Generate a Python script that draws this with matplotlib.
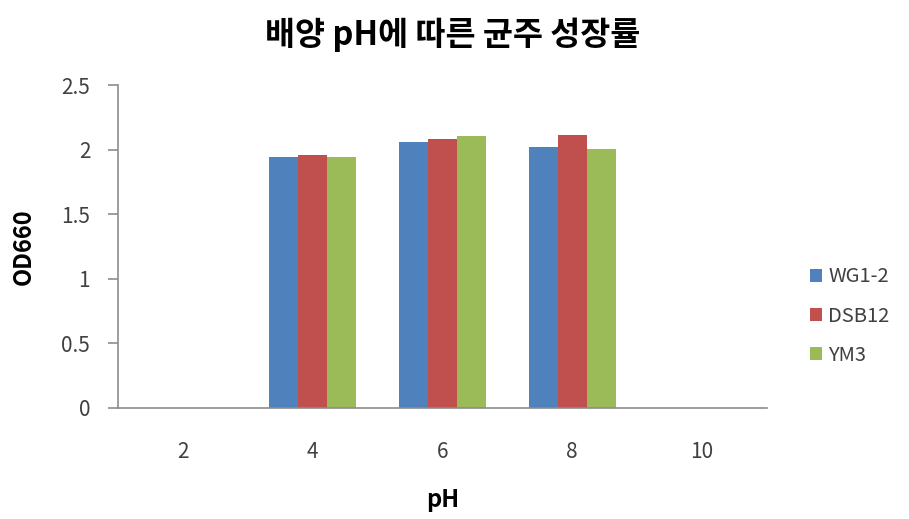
import matplotlib
matplotlib.use("Agg")
import matplotlib.pyplot as plt
import numpy as np

plt.rcParams['font.family'] = ['Noto Sans CJK KR', 'DejaVu Sans']

ph_labels = ["2", "4", "6", "8", "10"]
wg1_2 = [0, 1.945, 2.056, 2.018, 0]
dsb12 = [0, 1.960, 2.080, 2.110, 0]
ym3 = [0, 1.945, 2.108, 2.007, 0]
series_names = ["WG1-2", "DSB12", "YM3"]
colors = ["#4F81BD", "#C0504D", "#9BBB59"]

W, H = 909, 519
fig = plt.figure(figsize=(W / 100, H / 100), dpi=100)
ax = fig.add_axes([118 / W, 1 - 408 / H, 649 / W, 323 / H])

x = np.arange(len(ph_labels))
w = 0.223
for i, (vals, name, c) in enumerate(zip([wg1_2, dsb12, ym3], series_names, colors)):
    ax.bar(x + (i - 1) * w, vals, width=w, color=c, label=name, linewidth=0)

ax.set_xlim(-0.5, len(ph_labels) - 0.5)
ax.set_ylim(0, 2.5)
ax.set_yticks([0, 0.5, 1, 1.5, 2, 2.5])
ax.set_yticklabels(["0", "0.5", "1", "1.5", "2", "2.5"])
ax.set_xticks(x)
ax.set_xticklabels(ph_labels)

axis_gray = "#8C8C8C"
text_gray = "#404040"
for side in ["top", "right"]:
    ax.spines[side].set_visible(False)
for side in ["left", "bottom"]:
    ax.spines[side].set_color(axis_gray)
    ax.spines[side].set_linewidth(1.2)
ax.tick_params(axis="y", colors=axis_gray, labelcolor=text_gray, labelsize=15,
               length=7, width=1.2, pad=13)
ax.tick_params(axis="x", length=0, labelcolor=text_gray, labelsize=15, pad=24)

ax.set_xlabel("pH", fontsize=17, fontweight="bold", va="center")
ax.xaxis.set_label_coords(0.5, (408 - 500) / 323)
ax.set_ylabel("OD660", fontsize=17, fontweight="bold", va="center")
ax.yaxis.set_label_coords((24 - 118) / 649, 0.5)

fig.text(453 / W, 1 - 35 / H, "배양 pH에 따른 균주 성장률", ha="center", va="center",
         fontsize=23.5, fontweight="bold")

leg = ax.legend(loc="center left", bbox_to_anchor=(792 / W, 1 - 316 / H),
                bbox_transform=fig.transFigure, frameon=False,
                fontsize=14.5, handlelength=0.6, handleheight=0.6, handletextpad=0.3,
                labelspacing=0.9)
for t in leg.get_texts():
    t.set_color(text_gray)

fig.savefig("out.png", dpi=100)
